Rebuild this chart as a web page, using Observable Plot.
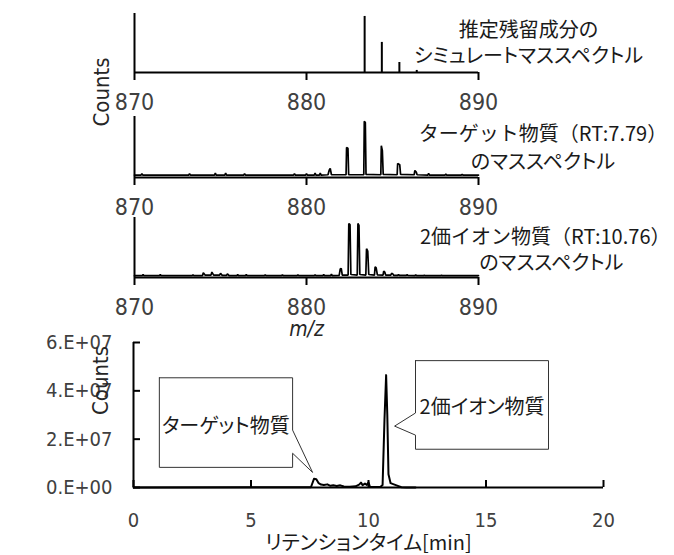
<!DOCTYPE html>
<html><head><meta charset="utf-8">
<script src="https://cdn.jsdelivr.net/npm/d3@7"></script>
<script src="https://cdn.jsdelivr.net/npm/@observablehq/plot@0.6"></script>
<style>
body{margin:0;background:#fff;}
#chart{position:relative;width:674px;height:555px;overflow:hidden;}
#chart svg{position:absolute;left:0;font-feature-settings:"palt";}
</style></head><body><div id="chart"></div>
<script>
// ---------- data ----------
const mzDomain = [870, 890];
const mzTicks = [870, 880, 890];

// simulated spectrum (sticks): m/z, relative intensity
const simMz = [883.38, 884.38, 885.40, 886.41];
const simIntensity = [95, 51, 17, 3.5];

// target compound spectrum (RT 7.79): [m/z, relative intensity]
const targetSpectrum = [
  [870.0,4],[870.38,4],[870.43,6],[870.48,4],[873.15,4],[873.2,6],[873.25,4],
  [874.65,4],[874.7,7],[874.75,4],[875.25,4],[875.3,7],[875.35,4],
  [876.35,4],[876.4,6],[876.45,4],[879.25,4],[879.3,6],[879.35,4],
  [879.95,4],[880.0,6],[880.05,4],[880.45,4],[880.5,7],[880.55,4],
  [880.75,4],[880.8,7],[880.85,4],[881.25,4.5],[881.32,12],[881.38,15],[881.45,4.5],
  [882.3,4.5],[882.33,49],[882.41,48],[882.45,4.5],
  [883.33,4.5],[883.36,92],[883.42,90],[883.46,5],
  [884.32,4.5],[884.35,52],[884.41,44],[884.46,5],
  [885.27,4.5],[885.3,23],[885.42,21],[885.47,5],
  [886.26,4.5],[886.3,11.5],[886.38,9],[886.43,4.5],
  [887.05,4],[887.1,6.5],[887.15,4],[888.05,4],[888.1,5.5],[888.15,4],
  [889.0,4],[889.05,5],[889.1,4],[890,4]
];

// doubly charged compound spectrum (RT 10.76): [m/z, relative intensity]
const dimerSpectrum = [
  [870,3],[870.45,3],[870.5,5],[870.55,3],[871.45,3],[871.5,5],[871.55,3],
  [873.35,3],[873.4,4.5],[873.45,3],[873.95,3],[874.0,8],[874.1,4],
  [874.45,4],[874.5,9],[874.6,4],[874.95,4],[875.0,7],[875.1,3.5],
  [875.35,3.5],[875.4,6],[875.5,3],[875.95,3],[876.0,5],[876.05,3],
  [876.45,3],[876.5,5],[876.55,3],[877.55,3],[877.6,4.5],[877.65,3],
  [878.55,3],[878.6,4.5],[878.65,3],[879.45,3],[879.5,4.5],[879.55,3],
  [880.45,3],[880.5,4.5],[880.55,3],[880.95,3],[881.0,5],[881.05,3],
  [881.4,3],[881.45,5.5],[881.5,3],[881.9,3.5],[881.96,14],[882.02,15],[882.08,4],
  [882.42,4],[882.46,90],[882.53,88],[882.58,5],
  [882.95,4],[882.99,90],[883.05,87],[883.1,5],
  [883.45,4],[883.49,48],[883.56,44],[883.62,5],
  [883.95,4],[883.99,18],[884.05,16],[884.12,4.5],
  [884.45,4],[884.49,10.5],[884.55,9],[884.6,4],
  [884.9,4],[884.95,7],[885.02,6],[885.08,3.5],
  [885.3,3.5],[885.35,5],[885.4,3.5],[885.8,3.5],[885.85,4.5],[885.9,3.5],
  [886.3,3],[886.35,4.5],[886.4,3],[886.8,3],[886.85,4],[886.9,3],
  [887.8,3],[887.85,4],[887.9,3],[890,3]
];

// chromatogram: [retention time (min), counts]
const chromatogram = [
  [0,0],[7.55,1e5],[7.68,3.6e6],[7.78,3.4e6],[7.88,1.8e6],[7.98,1.2e6],[8.1,1.0e6],
  [8.25,1.3e6],[8.38,0.7e6],[8.5,0.9e6],[8.65,0.6e6],[8.8,0.9e6],[8.95,0.4e6],
  [9.2,0.3e6],[9.45,0.5e6],[9.6,1.2e6],[9.68,2.0e6],[9.75,1.0e6],[9.85,1.6e6],
  [9.93,1.1e6],[10.0,2.1e6],[10.06,0.3e6],[10.3,0.2e6],[10.5,0.2e6],[10.6,1.0e6],
  [10.68,2.8e7],[10.75,4.65e7],[10.8,3.0e7],[10.85,5.5e6],[10.94,1.8e6],
  [11.05,1.4e6],[11.22,0.8e6],[11.4,1e5],[11.6,0],[12,0]
];
const rtDomain = [0, 20];
const rtTicks = [0, 5, 10, 15, 20];
const countDomain = [0, 6e7];
const countTicks = [0, 2e7, 4e7, 6e7];
const countTickLabels = ["0.E+00", "2.E+07", "4.E+07", "6.E+07"];

const titles1 = ["推定残留成分の", "シミュレートマススペクトル"];
const titles2 = ["ターゲット物質（RT:7.79）", "のマススペクトル"];
const titles3 = ["2価イオン物質（RT:10.76）", "のマススペクトル"];
const calloutLabels = ["ターゲット物質", "2価イオン物質"];
const countsLabel = "Counts";
const mzLabel = "m/z";
const rtLabel = "リテンションタイム[min]";

// ---------- rendering ----------
const LATIN = '"DejaVu Sans Condensed", "DejaVu Sans", sans-serif';
const JP = '"Noto Sans CJK JP", sans-serif';
const TICK_COLOR = "#404040";
const TEXT_COLOR = "#1a1a1a";
const root = document.getElementById("chart");
function place(svg, top) {
  svg.style.top = top + "px";
  // lines that contain full-width brackets keep full-width glyph spacing
  svg.querySelectorAll("text").forEach(t => {
    if (t.textContent.includes("（")) t.style.fontFeatureSettings = "normal";
  });
  root.appendChild(svg);
}
const baseStyle = {background: "transparent", overflow: "visible", fontFamily: LATIN};

function titleMarks(lines, offsets, spacing) {
  return lines.map((t, i) => Plot.text([t], {
    text: d => d, frameAnchor: "top-left", dx: offsets[i][0], dy: offsets[i][1],
    lineAnchor: "middle", textAnchor: "middle", fontSize: 20, fontFamily: JP, fill: TEXT_COLOR,
    letterSpacing: spacing[i]
  }));
}

function spectrumPlot({height, marginTop, marginBottom, dataMarks, extra}) {
  return Plot.plot({
    width: 674, height, marginLeft: 134, marginRight: 196, marginTop, marginBottom,
    x: {domain: mzDomain, axis: null},
    y: {domain: [0, 100], axis: null},
    style: baseStyle,
    marks: [
      ...dataMarks,
      Plot.ruleY([0], {stroke: "black", strokeWidth: 2}),
      Plot.ruleX([mzDomain[0]], {stroke: "black", strokeWidth: 2}),
      Plot.axisX({ticks: mzTicks, tickSize: 8, tickPadding: 13, fontSize: 23,
        stroke: "black", strokeWidth: 2, fill: TICK_COLOR, label: null, tickFormat: d => String(d)}),
      ...extra
    ]
  });
}

// panel 1
const simData = simMz.map((m, i) => ({mz: m, v: simIntensity[i]}));
place(spectrumPlot({
  height: 115, marginTop: 13, marginBottom: 43,
  dataMarks: [Plot.ruleX(simData, {x: "mz", y1: 0, y2: "v", stroke: "black", strokeWidth: 2})],
  extra: titleMarks(titles1, [[394, 17], [394, 43]], ["0.5px", "-0.3px"])
}), 0);

// panel 2
place(spectrumPlot({
  height: 115, marginTop: 12, marginBottom: 42,
  dataMarks: [Plot.line(targetSpectrum, {x: d => d[0], y: d => d[1], stroke: "black", strokeWidth: 1.7, strokeLinejoin: "miter"})],
  extra: [
    ...titleMarks(titles2, [[408.5, 18], [408.5, 45.7]], ["0px", "-1.5px"]),
    Plot.text([countsLabel], {text: d => d, frameAnchor: "left", dx: -33, dy: -20.5, rotate: -90,
      fontSize: 22, fill: "#262626", lineAnchor: "middle"})
  ]
}), 104);

// panel 3
place(spectrumPlot({
  height: 135, marginTop: 12, marginBottom: 63,
  dataMarks: [Plot.line(dimerSpectrum, {x: d => d[0], y: d => d[1], stroke: "black", strokeWidth: 1.7, strokeLinejoin: "miter"})],
  extra: [
    ...titleMarks(titles3, [[410.7, 20], [416.8, 46.5]], ["0px", "-1.5px"]),
    Plot.text([mzLabel], {text: d => d, frameAnchor: "bottom", dy: 52, fontStyle: "italic",
      fontSize: 21, fill: "#262626", lineAnchor: "middle"})
  ]
}), 205);

// callouts (data units: minutes, counts)
const callouts = [
  {label: calloutLabels[0], x1: 1.1, x2: 6.77, yb: 0.833e7, yt: 4.54e7, side: "right",
   baseHi: 2.375e7, baseLo: 1.417e7, tip: [7.62, 0.625e7], tx: 3.93, ty: 2.5e7},
  {label: calloutLabels[1], x1: 12.0, x2: 17.66, yb: 1.583e7, yt: 5.25e7, side: "left",
   baseHi: 3.083e7, baseLo: 2.167e7, tip: [11.11, 2.54e7], tx: 14.83, ty: 3.29e7}
];
function calloutPath(c) {
  if (c.side === "right")
    return [[c.x1, c.yt], [c.x2, c.yt], [c.x2, c.baseHi], c.tip, [c.x2, c.baseLo], [c.x2, c.yb], [c.x1, c.yb], [c.x1, c.yt]];
  return [[c.x1, c.yt], [c.x2, c.yt], [c.x2, c.yb], [c.x1, c.yb], [c.x1, c.baseLo], c.tip, [c.x1, c.baseHi], [c.x1, c.yt]];
}

// panel 4 : chromatogram
place(Plot.plot({
  width: 674, height: 235, marginLeft: 133, marginRight: 71, marginTop: 22, marginBottom: 68,
  x: {domain: rtDomain, axis: null},
  y: {domain: countDomain, axis: null},
  style: baseStyle,
  marks: [
    Plot.line(chromatogram, {x: d => d[0], y: d => d[1], stroke: "black", strokeWidth: 2, strokeLinejoin: "round"}),
    Plot.ruleY([countDomain[0]], {stroke: "black", strokeWidth: 2}),
    Plot.ruleX([rtDomain[0]], {stroke: "black", strokeWidth: 2}),
    Plot.axisX({ticks: rtTicks, tickSize: -7, tickPadding: 32, fontSize: 20,
      stroke: "black", strokeWidth: 2, fill: TICK_COLOR, label: null, tickFormat: d => String(d)}),
    Plot.axisY({ticks: countTicks, tickSize: -7, tickPadding: 28, fontSize: 20,
      stroke: "black", strokeWidth: 2, fill: TICK_COLOR, label: null,
      tickFormat: d => countTickLabels[countTicks.indexOf(d)]}),
    ...callouts.map(c => Plot.line(calloutPath(c), {x: d => d[0], y: d => d[1],
      stroke: "#333", strokeWidth: 1, fill: "white", strokeLinejoin: "miter"})),
    Plot.text(callouts, {x: "tx", y: "ty", text: "label", fontSize: 20, fontFamily: JP,
      fill: TEXT_COLOR, lineAnchor: "middle", textAnchor: "middle"}),
    Plot.text([countsLabel], {text: d => d, frameAnchor: "left", dx: -33, rotate: -90,
      fontSize: 22, fill: "#262626", lineAnchor: "middle"}),
    Plot.text([rtLabel], {text: d => d, frameAnchor: "bottom", dy: 56, fontSize: 20,
      fontFamily: JP, fill: TEXT_COLOR, lineAnchor: "middle", letterSpacing: "-0.5px"})
  ]
}), 320);
</script></body></html>
